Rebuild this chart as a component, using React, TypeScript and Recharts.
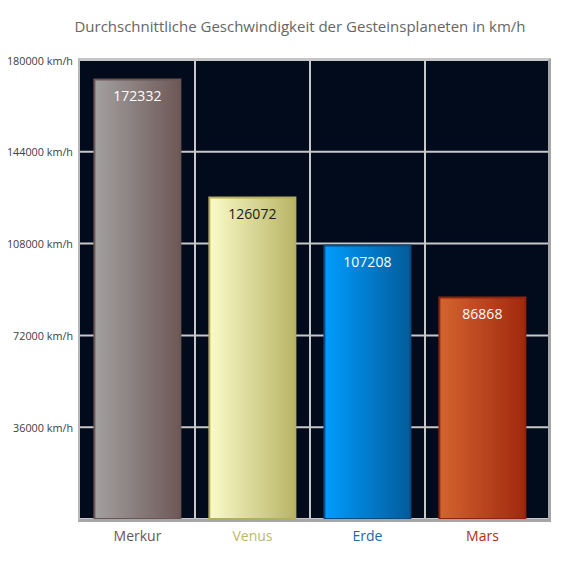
import { BarChart, Bar, XAxis, YAxis, CartesianGrid, Cell, LabelList } from "recharts";

const planets = ["Merkur", "Venus", "Erde", "Mars"];
const speeds = [172332, 126072, 107208, 86868];
const yTicks = [0, 36000, 72000, 108000, 144000, 180000];

const gradientFrom = ["#a3a1a1", "#fbfbc8", "#009cff", "#d4642f"];
const gradientTo = ["#6d5856", "#b8b466", "#035c9a", "#a0280e"];
const barStroke = ["#6b5452", "#b4ae5e", "#0a4c82", "#8c2410"];
const valueColor = ["#ffffff", "#1a1a1a", "#ffffff", "#ffffff"];
const nameColor = ["#6b5655", "#bdb76a", "#1c69a8", "#b02e18"];

const data = planets.map((name, i) => ({ name, speed: speeds[i] }));

const FONT = "'Open Sans', sans-serif";
const RIGHT_PAD = 8;

function PlanetTick(props: any) {
  const { x, y, payload } = props;
  return (
    <text x={x} y={y + 8} textAnchor="middle" dominantBaseline="central" fill={nameColor[payload.index]} fontSize={14} fontFamily={FONT}>
      {payload.value}
    </text>
  );
}

function SpeedTick(props: any) {
  const { x, y, payload } = props;
  if (payload.value === 0) return null;
  return (
    <text x={x} y={y} textAnchor="end" dominantBaseline="central" fill="#404040" fontSize={10.8} fontFamily={FONT}>
      {`${payload.value} km/h`}
    </text>
  );
}

function ValueLabel(props: any) {
  const { x, y, width, value, index } = props;
  return (
    <text x={x + width / 2} y={y + 16} textAnchor="middle" dominantBaseline="central" fill={valueColor[index]} fontSize={14} fontFamily={FONT}>
      {value}
    </text>
  );
}

export default function App() {
  return (
    <div style={{ position: "relative", width: 570, height: 570, margin: -8, background: "#fff", fontFamily: FONT }}>
      <div style={{ position: "absolute", top: 16, left: 0, width: 600, textAlign: "center", fontSize: 15, color: "#666" }}>
        Durchschnittliche Geschwindigkeit der Gesteinsplaneten in km/h
      </div>
      <BarChart width={570} height={570} data={data} margin={{ top: 60, right: 22, left: 0, bottom: 21 }} barCategoryGap="12.5%">
        <defs>
          {planets.map((p, i) => (
            <linearGradient key={p} id={`grad${i}`} x1="0" y1="0" x2="1" y2="0">
              <stop offset="0%" stopColor={gradientFrom[i]} />
              <stop offset="100%" stopColor={gradientTo[i]} />
            </linearGradient>
          ))}
        </defs>
        <CartesianGrid
          fill="#020b1b"
          fillOpacity={1}
          stroke="#c8c8c8"
          strokeWidth={2}
          verticalCoordinatesGenerator={({ offset }: any) => {
            const w = (offset.width - RIGHT_PAD) / planets.length;
            return planets.slice(1).map((_, i) => offset.left + (i + 1) * w);
          }}
        />
        <XAxis dataKey="name" height={30} axisLine={false} tickLine={false} tick={<PlanetTick />} padding={{ left: 0, right: RIGHT_PAD }} interval={0} />
        <YAxis
          width={80}
          domain={[0, 180000]}
          ticks={yTicks}
          axisLine={false}
          tickLine={false}
          tickSize={0}
          tickMargin={7}
          interval={0}
          tick={<SpeedTick />}
        />
        <Bar dataKey="speed" isAnimationActive={false} strokeWidth={2}>
          {data.map((d, i) => (
            <Cell key={d.name} fill={`url(#grad${i})`} stroke={barStroke[i]} />
          ))}
          <LabelList dataKey="speed" content={<ValueLabel />} />
        </Bar>
      </BarChart>
      <div
        style={{
          position: "absolute",
          left: 78,
          top: 58,
          width: 473,
          height: 464,
          boxSizing: "border-box",
          borderTop: "2px solid #c6c6c6",
          borderLeft: "2px solid #b8b8b8",
          borderRight: "3px solid #a6a6a6",
          borderBottom: "3px solid #a6a6a6",
          pointerEvents: "none",
        }}
      />
    </div>
  );
}
